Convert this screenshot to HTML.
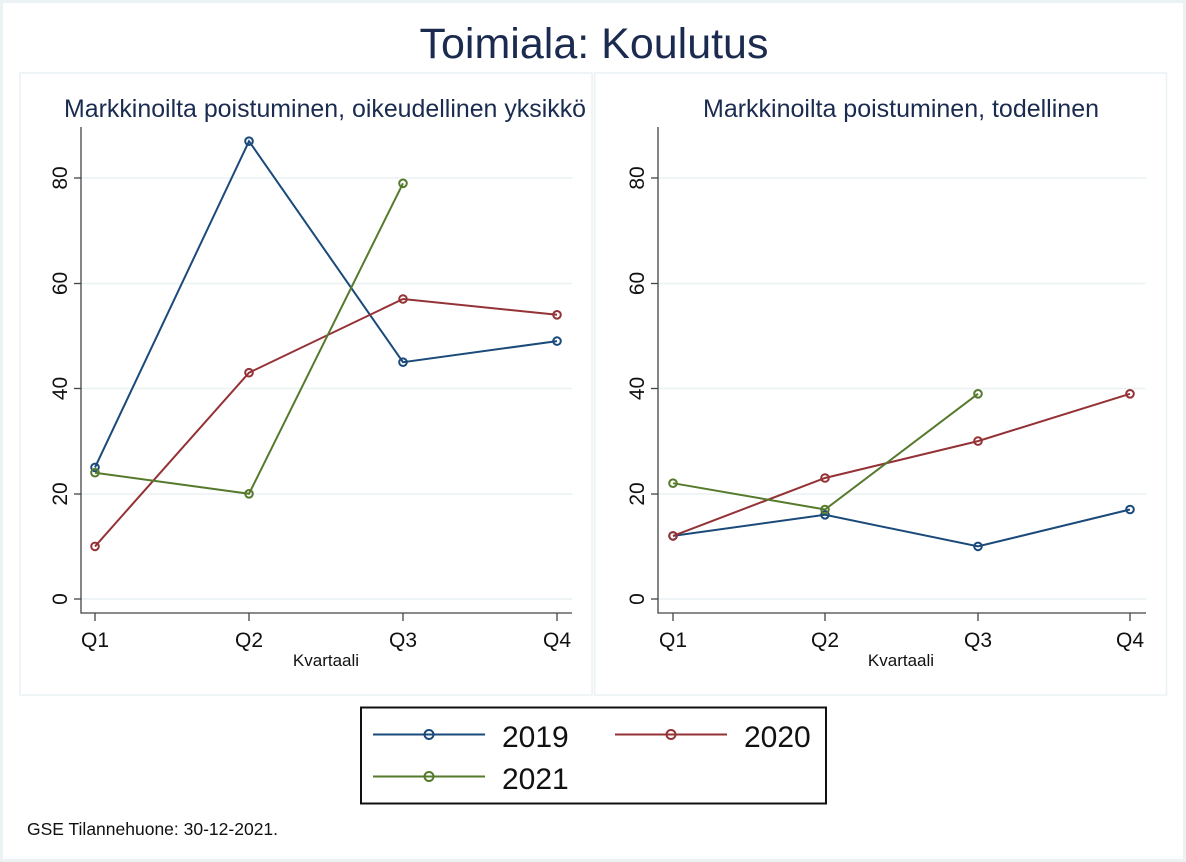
<!DOCTYPE html>
<html><head><meta charset="utf-8"><style>
html,body{margin:0;padding:0;background:#fff;}
svg{display:block;font-family:"Liberation Sans",sans-serif;}
</style></head><body>
<svg width="1186" height="862" viewBox="0 0 1186 862">
<rect x="1.5" y="1.5" width="1183" height="859" fill="#fff" stroke="#eaf2f3" stroke-width="3"/>
<text x="594" y="58" text-anchor="middle" font-size="43" fill="#1a2b4f">Toimiala: Koulutus</text>
<rect x="20" y="73" width="572" height="622" fill="#fff" stroke="#eaf2f3" stroke-width="1.5"/>
<rect x="594.5" y="73" width="572" height="622" fill="#fff" stroke="#eaf2f3" stroke-width="1.5"/>
<text x="325" y="117" text-anchor="middle" font-size="24.8" textLength="522" lengthAdjust="spacingAndGlyphs" fill="#1a2b4f">Markkinoilta poistuminen, oikeudellinen yksikkö</text>
<text x="901" y="117" text-anchor="middle" font-size="24.8" textLength="396" lengthAdjust="spacingAndGlyphs" fill="#1a2b4f">Markkinoilta poistuminen, todellinen</text>
<g stroke="#eaf2f3" stroke-width="1.5">
<line x1="81" x2="572" y1="178" y2="178"/><line x1="81" x2="572" y1="283.5" y2="283.5"/><line x1="81" x2="572" y1="388.5" y2="388.5"/><line x1="81" x2="572" y1="494" y2="494"/><line x1="81" x2="572" y1="599" y2="599"/>
<line x1="658" x2="1146" y1="178" y2="178"/><line x1="658" x2="1146" y1="283.5" y2="283.5"/><line x1="658" x2="1146" y1="388.5" y2="388.5"/><line x1="658" x2="1146" y1="494" y2="494"/><line x1="658" x2="1146" y1="599" y2="599"/>
</g>
<g stroke="#444" stroke-width="1.3" fill="none">
<polyline points="81,127 81,613 572,613"/>
<polyline points="658,127 658,613 1146,613"/>
<line x1="74" x2="81" y1="178" y2="178"/><line x1="74" x2="81" y1="283.5" y2="283.5"/><line x1="74" x2="81" y1="388.5" y2="388.5"/><line x1="74" x2="81" y1="494" y2="494"/><line x1="74" x2="81" y1="599" y2="599"/>
<line x1="651" x2="658" y1="178" y2="178"/><line x1="651" x2="658" y1="283.5" y2="283.5"/><line x1="651" x2="658" y1="388.5" y2="388.5"/><line x1="651" x2="658" y1="494" y2="494"/><line x1="651" x2="658" y1="599" y2="599"/>
<line x1="95" x2="95" y1="613" y2="621"/><line x1="249" x2="249" y1="613" y2="621"/><line x1="403" x2="403" y1="613" y2="621"/><line x1="557" x2="557" y1="613" y2="621"/>
<line x1="673" x2="673" y1="613" y2="621"/><line x1="825" x2="825" y1="613" y2="621"/><line x1="978" x2="978" y1="613" y2="621"/><line x1="1130" x2="1130" y1="613" y2="621"/>
</g>
<g font-size="21" fill="#111" text-anchor="middle">
<text transform="translate(60,178) rotate(-90)" dy="7">80</text>
<text transform="translate(60,283.5) rotate(-90)" dy="7">60</text>
<text transform="translate(60,388.5) rotate(-90)" dy="7">40</text>
<text transform="translate(60,494) rotate(-90)" dy="7">20</text>
<text transform="translate(60,599) rotate(-90)" dy="7">0</text>
<text transform="translate(637,178) rotate(-90)" dy="7">80</text>
<text transform="translate(637,283.5) rotate(-90)" dy="7">60</text>
<text transform="translate(637,388.5) rotate(-90)" dy="7">40</text>
<text transform="translate(637,494) rotate(-90)" dy="7">20</text>
<text transform="translate(637,599) rotate(-90)" dy="7">0</text>
<text x="95" y="647">Q1</text><text x="249" y="647">Q2</text><text x="403" y="647">Q3</text><text x="557" y="647">Q4</text>
<text x="673" y="647">Q1</text><text x="825" y="647">Q2</text><text x="978" y="647">Q3</text><text x="1130" y="647">Q4</text>
<text x="326" y="666" font-size="17">Kvartaali</text>
<text x="901" y="666" font-size="17">Kvartaali</text>
</g>
<g fill="none" stroke-width="2">
<g stroke="#1a4a7a"><polyline points="95,467.4 249,141.2 403,362.2 557,341.1"/>
<circle cx="95" cy="467.4" r="3.8"/><circle cx="249" cy="141.2" r="3.8"/><circle cx="403" cy="362.2" r="3.8"/><circle cx="557" cy="341.1" r="3.8"/></g>
<g stroke="#943236"><polyline points="95,546.4 249,372.7 403,299 557,314.8"/>
<circle cx="95" cy="546.4" r="3.8"/><circle cx="249" cy="372.7" r="3.8"/><circle cx="403" cy="299" r="3.8"/><circle cx="557" cy="314.8" r="3.8"/></g>
<g stroke="#557a2c"><polyline points="95,472.7 249,493.8 403,183.3"/>
<circle cx="95" cy="472.7" r="3.8"/><circle cx="249" cy="493.8" r="3.8"/><circle cx="403" cy="183.3" r="3.8"/></g>
<g stroke="#1a4a7a"><polyline points="673,535.9 825,514.8 978,546.4 1130,509.5"/>
<circle cx="673" cy="535.9" r="3.8"/><circle cx="825" cy="514.8" r="3.8"/><circle cx="978" cy="546.4" r="3.8"/><circle cx="1130" cy="509.5" r="3.8"/></g>
<g stroke="#943236"><polyline points="673,535.9 825,478 978,441.1 1130,393.8"/>
<circle cx="673" cy="535.9" r="3.8"/><circle cx="825" cy="478" r="3.8"/><circle cx="978" cy="441.1" r="3.8"/><circle cx="1130" cy="393.8" r="3.8"/></g>
<g stroke="#557a2c"><polyline points="673,483.2 825,509.5 978,393.8"/>
<circle cx="673" cy="483.2" r="3.8"/><circle cx="825" cy="509.5" r="3.8"/><circle cx="978" cy="393.8" r="3.8"/></g>
</g>
<rect x="361" y="707.5" width="465" height="96" fill="#fff" stroke="#111" stroke-width="2"/>
<g stroke-width="2" fill="none">
<line x1="373" x2="485" y1="734.5" y2="734.5" stroke="#1a4a7a"/><circle cx="429" cy="734.5" r="4.5" stroke="#1a4a7a"/>
<line x1="615" x2="727" y1="734.5" y2="734.5" stroke="#943236"/><circle cx="671" cy="734.5" r="4.5" stroke="#943236"/>
<line x1="373" x2="485" y1="776.5" y2="776.5" stroke="#557a2c"/><circle cx="429" cy="776.5" r="4.5" stroke="#557a2c"/>
</g>
<g font-size="30" fill="#111">
<text x="502" y="747">2019</text><text x="744" y="747">2020</text><text x="502" y="789">2021</text>
</g>
<text x="27" y="835" font-size="17.5" fill="#111">GSE Tilannehuone: 30-12-2021.</text>
</svg>
</body></html>
